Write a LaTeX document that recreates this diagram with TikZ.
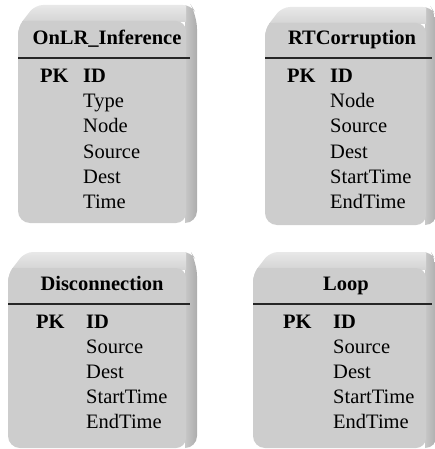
\documentclass[tikz,border=0pt]{standalone}
\usepackage{fontspec}
\setmainfont{Liberation Serif}
\definecolor{facegray}{RGB}{205,205,205}
\definecolor{wallhi}{RGB}{232,232,232}
\definecolor{walllo}{RGB}{212,212,212}
\definecolor{sidehi}{RGB}{200,200,200}
\definecolor{sidelo}{RGB}{172,172,172}
\tikzset{
  hdr/.style={font=\fontsize{20.5}{25}\selectfont\bfseries, anchor=base, inner sep=0pt},
  keytag/.style={font=\fontsize{20.5}{25}\selectfont\bfseries, anchor=base west, inner sep=0pt},
  field/.style={font=\fontsize{20.5}{25}\selectfont, anchor=base west, inner sep=0pt},
  sepline/.style={line width=1.1pt, draw=black!85}
}
% raised table card with a chamfered upper-left edge:
% #1 left, #2 top, #3 right, #4 bottom
\newcommand\tablecard[4]{%
  \begin{scope}
    \clip[rounded corners=8pt] (#1,#4) -- (#1,#2+22) -- (#1+17,#2)
      -- (#3-6,#2) [rounded corners=14pt] -- (#3,#2+10)
      [rounded corners=12pt] -- (#3,#4) -- cycle;
    \shade[left color=sidehi, right color=sidelo] (#3-12,#2) rectangle (#3,#4);
    \shade[top color=wallhi, bottom color=walllo] (#1,#2) rectangle (#3-11,#2+17);
    \fill[facegray, rounded corners=10pt] (#1,#2+16) rectangle (#3-11,#4);
    \fill[facegray] (#1,#2+16) rectangle (#1+20,#2+30);
  \end{scope}}
\begin{document}
\begin{tikzpicture}[x=1pt,y=-1pt]
  \useasboundingbox (0,0) rectangle (435,449);

  % OnLR_Inference
  \tablecard{18}{5}{197}{223}
  \node[hdr] (onlr) at (107,45) {OnLR\_Inference};
  \draw[sepline] (18,58) -- (190,58);
  \node[keytag] (onlrpk) at (40,83) {PK};
  \node[keytag] (onlrid) at (83,83) {ID};
  \foreach \f [count=\i] in {Type,Node,Source,Dest,Time}
    \node[field] (onlrf\i) at (83,83+25*\i) {\f};

  % RTCorruption
  \tablecard{265}{7}{437}{225}
  \node[hdr] (rtc) at (352,45) {RTCorruption};
  \draw[sepline] (265,58) -- (432,58);
  \node[keytag] (rtcpk) at (287,83) {PK};
  \node[keytag] (rtcid) at (330,83) {ID};
  \foreach \f [count=\i] in {Node,Source,Dest,StartTime,EndTime}
    \node[field] (rtcf\i) at (330,83+25*\i) {\f};

  % Disconnection
  \tablecard{8}{252}{197}{448}
  \node[hdr] (disc) at (102,290) {Disconnection};
  \draw[sepline] (8,304) -- (190,304);
  \node[keytag] (discpk) at (36,328) {PK};
  \node[keytag] (discid) at (86,328) {ID};
  \foreach \f [count=\i] in {Source,Dest,StartTime,EndTime}
    \node[field] (discf\i) at (86,328+25*\i) {\f};

  % Loop
  \tablecard{253}{252}{437}{448}
  \node[hdr] (loop) at (346,290) {Loop};
  \draw[sepline] (253,304) -- (432,304);
  \node[keytag] (looppk) at (283,328) {PK};
  \node[keytag] (loopid) at (333,328) {ID};
  \foreach \f [count=\i] in {Source,Dest,StartTime,EndTime}
    \node[field] (loopf\i) at (333,328+25*\i) {\f};
\end{tikzpicture}
\end{document}
